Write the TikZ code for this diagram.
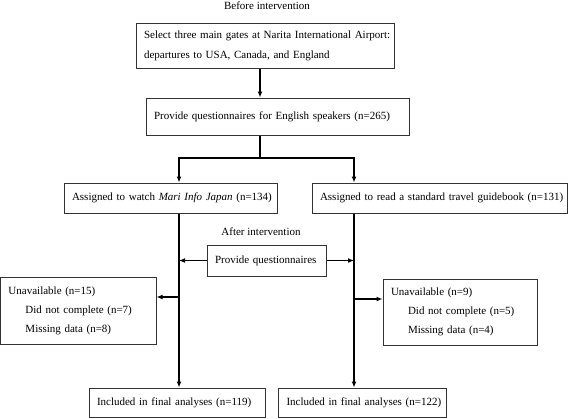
\documentclass[tikz,border=0pt]{standalone}
\usepackage{fontspec}
\setmainfont{Liberation Serif}
\usetikzlibrary{arrows.meta, positioning}

\begin{document}
\begin{tikzpicture}[x=1pt,y=-1pt,on grid,font=\fontsize{11}{13}\selectfont,
    box/.style={draw=black!80,line width=1pt,inner xsep=8pt,inner ysep=0pt,align=left,
      execute at begin node={\rightskip=-20pt plus 40pt}},
    wire/.style={line width=1.2pt,-{Latex[length=6pt,width=5pt]}}]
      \useasboundingbox (0,0) rectangle (568,418);
      \node[box,text width=242pt,minimum height=45pt,font=\fontsize{11}{20}\selectfont] (b_1) at (265,45.5)
            {Select three main gates at Narita International Airport:\\departures to USA, Canada, and England};
      \node (t_1) [above right=40pt and 2pt of b_1] {Before intervention};
      \node[box,text width=247pt,minimum height=37pt] (b_2) [below right=71pt and 12.5pt of b_1]
            {Provide questionnaires for English speakers (n=265)};
      \node[box,text width=197pt,minimum height=30pt] (b_3) [below left=81.5pt and 107pt of b_2]
            {Assigned to watch \textit{Mari Info Japan} (n=134)};
      \node[box,text width=239pt,minimum height=30pt] (b_4) [right=269pt of b_3]
            {Assigned to read a standard travel guidebook (n=131)};
      \node[box,text width=103pt,minimum height=31pt] (b_5) [below right=62.5pt and 96pt of b_3]
            {Provide questionnaires};
      \node (t_2) [above left=28.5pt and 5.5pt of b_5] {After intervention};
      \node[box,text width=139.5pt,minimum height=67pt,font=\fontsize{11}{19}\selectfont] (b_6) [below left=112.5pt and 92.25pt of b_3]
            {Unavailable (n=15)\\\hspace*{17pt}Did not complete (n=7)\\\hspace*{17pt}Missing data (n=8)};
      \node[box,text width=138pt,minimum height=66pt,font=\fontsize{11}{19}\selectfont] (b_7) [below right=114pt and 20.5pt of b_4]
            {Unavailable (n=9)\\\hspace*{17pt}Did not complete (n=5)\\\hspace*{17pt}Missing data (n=4)};
      \node[box,text width=160pt,minimum height=29pt] (b_8) [below right=204.5pt and 6.5pt of b_3]
            {Included in final analyses (n=119)};
      \node[box,text width=152pt,minimum height=29pt] (b_9) [right=185.5pt of b_8]
            {Included in final analyses (n=122)};

      \coordinate (j_1) at (260,158);
      \coordinate (l_1) at (179,158);
      \coordinate (l_2) at (354,158);
      \coordinate (o_1) at ([yshift=13.5pt]b_6.east);
      \coordinate (o_2) at ([yshift=13pt]b_7.west);

      \path[wire] (b_1.south -| j_1) edge (b_2.north -| j_1);
      \draw[line width=1.2pt] (b_2.south -| j_1) -- (j_1);
      \draw[wire] (j_1) -| (b_3.north -| l_1);
      \draw[wire] (j_1) -| (b_4.north -| l_2);
      \path[wire] (b_3.south -| l_1) edge (b_8.north -| l_1)
            (b_4.south -| l_2) edge (b_9.north -| l_2);
      \path[wire] (b_5.west) edge (b_5.west -| l_1)
            (b_5.east) edge (b_5.east -| l_2);
      \path[wire] (o_1 -| l_1) edge (o_1)
            (o_2 -| l_2) edge (o_2);
    \end{tikzpicture}
\end{document}
